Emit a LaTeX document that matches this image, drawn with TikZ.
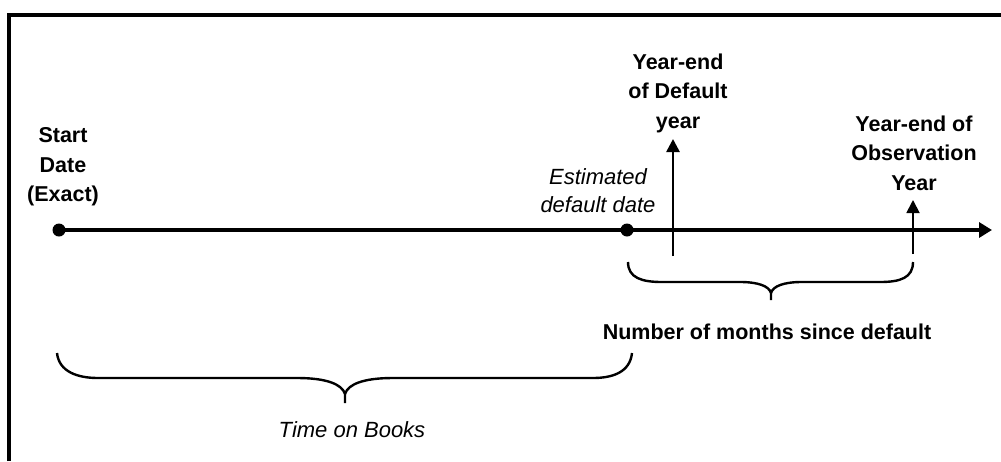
\documentclass[tikz,border=0pt]{standalone}
\usepackage{fontspec}
\setmainfont{Liberation Sans}
\usetikzlibrary{arrows.meta}
\begin{document}
\begin{tikzpicture}[x=1pt,y=-1pt,
  lbl/.style={inner sep=0pt, align=center, font=\bfseries\fontsize{21.5}{29.5}\selectfont},
  note/.style={inner sep=0pt, align=center, font=\itshape\fontsize{22}{28}\selectfont},
  dot/.style={circle, fill=black, inner sep=0pt, minimum size=13pt},
  timeline/.style={line width=3.5pt, -{Triangle[length=13pt,width=15pt]}},
  marker/.style={-{Triangle[length=13pt,width=13pt]}},
  bracepath/.style={line width=2.4pt, line join=round}
]
\useasboundingbox (0,0) rectangle (1001,461);

% frame
\draw[line width=3.5pt] (9,461) -- (9,15) -- (1001,15);

% time axis
\node[dot] (start) at (59,230) {};
\node[dot] (est) at (627,230) {};
\coordinate (axisend) at (992,230);
\draw[timeline] (start.center) -- (axisend);

% year-end markers
\coordinate (dyfoot) at (673,256);
\coordinate (dytip) at (673,139);
\draw[marker, line width=2.6pt] (dyfoot) -- (dytip);
\coordinate (obfoot) at (913,254);
\coordinate (obtip) at (913,200);
\draw[marker, line width=1.8pt] (obfoot) -- (obtip);

% labels
\node[lbl] (startlbl) at (63,167) {Start\\Date\\(Exact)};
\node[lbl] (dylbl) at (678,93) {Year-end\\of Default\\year};
\node[note] (estlbl) at (598,191) {Estimated\\default date};
\node[lbl] (oblbl) at (914,153) {Year-end of\\Observation\\Year};

% brace: months since default
\coordinate (b1l) at (628,262);
\coordinate (b1r) at (913,262);
\coordinate (b1m) at (771,300);
\draw[bracepath] (b1l) .. controls (628,278) and (642,282) .. (662,282)
  -- (740,282) .. controls (758,282) and (769,286) .. (771,293) -- (b1m);
\draw[bracepath] (771,293) .. controls (773,286) and (784,282) .. (802,282)
  -- (880,282) .. controls (900,282) and (913,278) .. (b1r);
\node[lbl] (months) at (767,332) {Number of months since default};

% brace: time on books
\coordinate (b2l) at (57,353);
\coordinate (b2r) at (632,353);
\coordinate (b2m) at (345,403);
\draw[bracepath] (b2l) .. controls (59,372) and (78,378) .. (98,378)
  -- (297,378) .. controls (326,378) and (342,384) .. (345,394) -- (b2m);
\draw[bracepath] (345,394) .. controls (348,384) and (364,378) .. (393,378)
  -- (593,378) .. controls (613,378) and (630,372) .. (b2r);
\node[note] (books) at (352,430) {Time on Books};
\end{tikzpicture}
\end{document}
